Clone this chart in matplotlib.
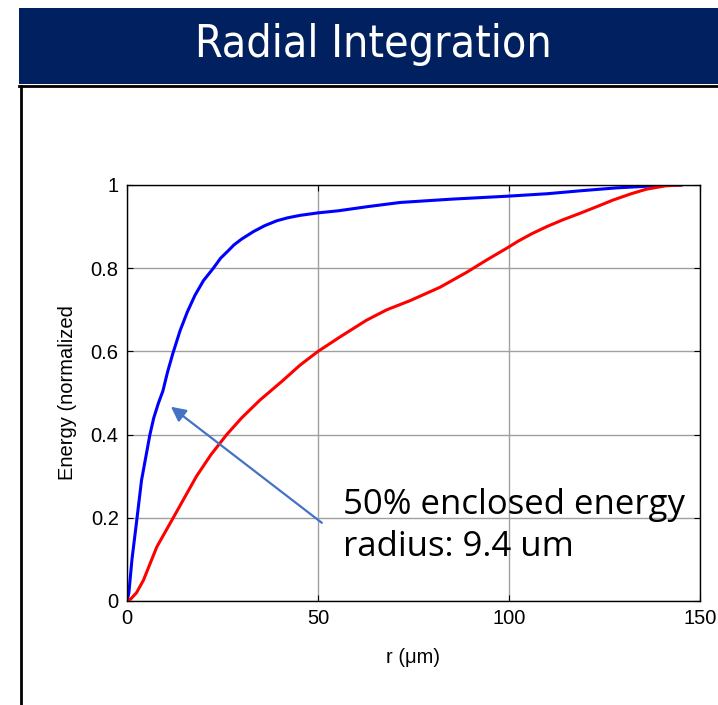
import matplotlib.pyplot as plt
from matplotlib.patches import Rectangle
from matplotlib.lines import Line2D

# values
blue_r = [0, 0.5, 1.3, 2.5, 3.8, 5, 6, 7, 8.2, 9.4, 10.6, 12, 13.9, 15.8, 17.8,
          20, 22.6, 24.5, 26.5, 28, 30, 33.1, 36, 39.2, 42, 45.3, 50, 55.3, 63,
          71.5, 85, 99.4, 110, 118.6, 128, 136, 141, 145]
blue_E = [0, 0.02, 0.10, 0.19, 0.29, 0.35, 0.40, 0.44, 0.475, 0.505, 0.55, 0.595,
          0.65, 0.695, 0.735, 0.77, 0.80, 0.824, 0.842, 0.856, 0.87, 0.888, 0.902,
          0.914, 0.921, 0.927, 0.933, 0.938, 0.948, 0.958, 0.966, 0.973, 0.979,
          0.986, 0.993, 0.997, 0.999, 1.0]

red_r = [0, 1, 2.5, 4.3, 7.8, 12.1, 18.2, 22, 26.1, 30, 34.8, 40.8, 45.3, 50,
         55.8, 62.7, 68, 74.1, 81.9, 88.9, 94.2, 99.4, 102.4, 106, 109.9, 114,
         118.6, 123, 127.3, 132, 136, 141, 145]
red_E = [0, 0.005, 0.02, 0.05, 0.13, 0.20, 0.30, 0.352, 0.40, 0.44, 0.483, 0.53,
         0.567, 0.60, 0.635, 0.675, 0.70, 0.722, 0.754, 0.79, 0.82, 0.848, 0.865,
         0.883, 0.90, 0.916, 0.932, 0.948, 0.964, 0.979, 0.99, 0.998, 1.0]

xticks = [0, 50, 100, 150]
yticks = [0, 0.2, 0.4, 0.6, 0.8, 1]
ytick_labels = ['0', '0.2', '0.4', '0.6', '0.8', '1']

title = 'Radial Integration'
note = '50% enclosed energy\nradius: 9.4 um'

W, H = 718, 705
fig = plt.figure(figsize=(W / 100, H / 100), dpi=100)

# slide header band + borders
fig.patches.append(Rectangle((19 / W, 1 - 84 / H), 1, 76 / H, transform=fig.transFigure,
                             facecolor='#00205F', edgecolor='none', zorder=0))
fig.lines.append(Line2D([19 / W, 1], [1 - 85.5 / H, 1 - 85.5 / H], transform=fig.transFigure,
                        color='black', lw=2))
fig.lines.append(Line2D([21 / W, 21 / W], [0, 1 - 85.5 / H], transform=fig.transFigure,
                        color='black', lw=2))
fig.text(373 / W, 1 - 45 / H, title, color='white', fontsize=32, fontstretch='condensed',
         family=['DejaVu Sans'], ha='center', va='center')

ax = fig.add_axes([127 / W, (H - 601) / H, 573 / W, 416 / H])
ax.plot(blue_r, blue_E, color='#0000FF', lw=2.2)
ax.plot(red_r, red_E, color='#FF0000', lw=2.2)

ax.set_xlim(0, 150)
ax.set_ylim(0, 1)
ax.set_xticks(xticks)
ax.set_yticks(yticks)
ax.set_yticklabels(ytick_labels)
ax.grid(True, color='#a0a0a0', lw=1)
ax.tick_params(direction='in', length=4, top=True, right=True,
               labelsize=14.5, pad=6, labelfontfamily='Liberation Sans')
for s in ax.spines.values():
    s.set_linewidth(1)

ax.set_xlabel('r (\u03bcm)', fontsize=14.5, family='Liberation Sans', labelpad=14)
ax.set_ylabel('Energy (normalized', fontsize=14.5, family='Liberation Sans', labelpad=10)

ax.annotate('', xy=(11.5, 0.467), xytext=(51, 0.188),
            arrowprops=dict(arrowstyle='-|>', color='#4472C4', lw=1.6,
                            mutation_scale=22, shrinkA=0, shrinkB=0))
ax.text(56.5, 0.18, note, fontsize=25, family='Open Sans', va='center', ha='left',
        linespacing=1.3, clip_on=False)

fig.savefig('out.png', dpi=100)
